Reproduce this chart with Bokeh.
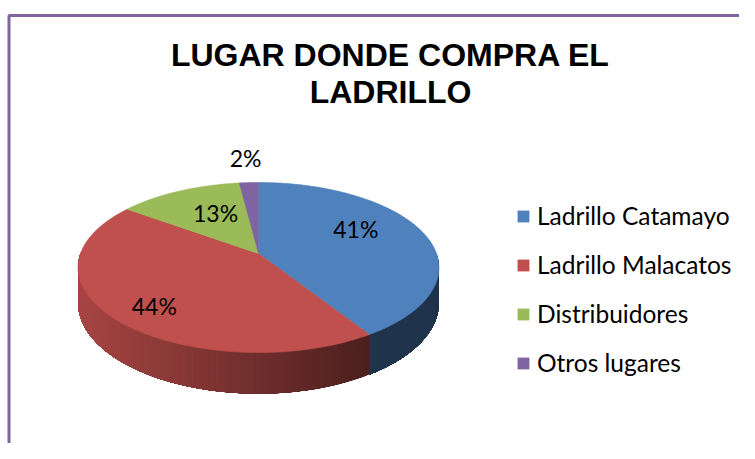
import numpy as np
from bokeh.plotting import figure
from bokeh.models import Range1d, Legend, LegendItem, ColumnDataSource, BoxAnnotation
from bokeh.embed import file_html
from bokeh.resources import INLINE
from bokeh.core.properties import value

# ---- data ----
categories = ["Ladrillo Catamayo", "Ladrillo Malacatos", "Distribuidores", "Otros lugares"]
percent = [41, 44, 13, 2]
pct_labels = ["41%", "44%", "13%", "2%"]
colors = ["#4F81BD", "#C0504D", "#9BBB59", "#8064A2"]
title_lines = ["LUGAR DONDE COMPRA EL", "LADRILLO"]

# ---- layout / style ----
W, H = 739, 443
CX, CY = 258.0, 253.0            # pie apex
RX, RY, K = 178.0, 82.7, 0.1647  # perspective ellipse
DEPTH = 34.4
label_frac = [0.42, 0.475, 0.59, 0.5]   # where inside each slice's angle the label sits
label_r = [0.65, 0.78, 0.59, 1.42]      # radial position of labels

p = figure(width=W, height=H, x_range=Range1d(0, W), y_range=Range1d(H, 0),
           output_backend="svg", toolbar_location=None, x_axis_type=None, y_axis_type=None,
           min_border=0, outline_line_color=None)
p.grid.visible = False
p.background_fill_color = "white"


def proj(theta, r=1.0):
    u = r * np.sin(theta)
    v = r * np.cos(theta)
    d = 1 + K * v
    return CX + RX * u / d, CY - RY * v / d


def shade(hexc, f):
    h = hexc.lstrip("#")
    rgb = [int(h[i:i + 2], 16) for i in (0, 2, 4)]
    return "#%02x%02x%02x" % tuple(int(round(c * f)) for c in rgb)


vals = np.array(percent, dtype=float)
fr = vals / vals.sum()
ends = np.cumsum(fr) * 2 * np.pi
starts = ends - fr * 2 * np.pi

# ---- side walls (front half), each strip runs to the segment end so no seams ----
sx, sy, sc = [], [], []
bounds = sorted(set([np.pi / 2, 3 * np.pi / 2] + [a for a in ends if np.pi / 2 < a < 3 * np.pi / 2]))
step = np.radians(0.5)
for a0, a1 in zip(bounds[:-1], bounds[1:]):
    mid = 0.5 * (a0 + a1)
    idx = int(np.searchsorted(ends, mid))
    n = max(2, int((a1 - a0) / step))
    th = np.linspace(a0, a1, n + 1)
    for t0 in th[:-1]:
        tt = np.linspace(t0, a1, 12)
        xt, yt = proj(tt)
        hb = DEPTH / (1 + K * np.cos(tt))
        x0, _ = proj(t0)
        x1, _ = proj(min(t0 + step, a1))
        xm = 0.5 * (x0 + x1)
        f = float(np.clip(0.87 - (xm - 77) / 288.0 * 0.47, 0.40, 0.87))
        sx.append(list(xt) + list(xt[::-1]))
        sy.append(list(yt) + list((yt + hb)[::-1]))
        sc.append(shade(colors[idx], f))
p.patches(sx, sy, fill_color=sc, line_color=None)

# ---- top faces ----
txs, tys = [], []
for s, e in zip(starts, ends):
    th = np.linspace(s, e, max(3, int(np.degrees(e - s)) + 2))
    x, y = proj(th)
    txs.append([CX] + list(x))
    tys.append([CY] + list(y))
src = ColumnDataSource(dict(xs=txs, ys=tys, color=colors, cat=categories))
top = p.patches("xs", "ys", source=src, fill_color="color", line_color="color", line_width=0.6)

# ---- percentage labels ----
lx, ly = [], []
for s, e, fpos, r in zip(starts, ends, label_frac, label_r):
    x, y = proj(s + fpos * (e - s), r)
    lx.append(x)
    ly.append(y)
p.text(x=lx, y=ly, text=pct_labels, text_font=value("Lato"), text_font_size="23px",
       text_align="center", text_baseline="middle", text_color="black")

# ---- title ----
p.text(x=[390, 390], y=[54, 91], text=title_lines, text_font=value("Liberation Sans"),
       text_font_style="bold", text_font_size="32px", text_align="center",
       text_baseline="alphabetic", text_color="black")

# ---- border ----
p.add_layout(BoxAnnotation(left=8.5, right=900, top=15, bottom=600, fill_alpha=0,
                           line_color="#8064A2", line_alpha=1.0, line_width=3))

# ---- legend ----
items = [LegendItem(label=c, renderers=[top], index=i) for i, c in enumerate(categories)]
legend = Legend(items=items, location=(516, 66), glyph_width=14, glyph_height=14,
                label_standoff=7, spacing=20, label_height=28, padding=0, margin=0,
                border_line_color=None, background_fill_alpha=0,
                label_text_font="Lato", label_text_font_size="24.5px", label_text_color="black")
p.add_layout(legend)

open("out.html", "w").write(file_html(p, INLINE))
